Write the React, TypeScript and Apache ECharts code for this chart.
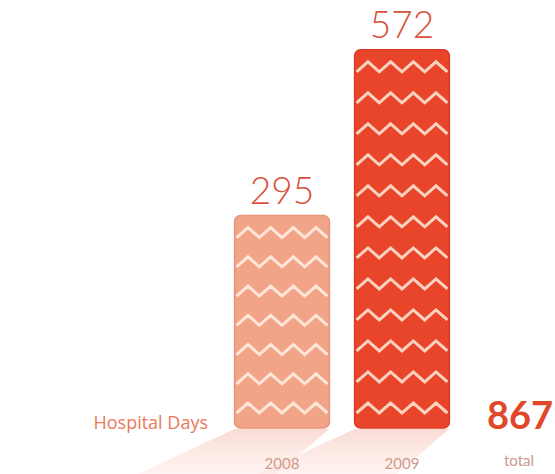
import React, { useEffect, useRef } from "react";
import * as echarts from "echarts";

const years = ["2008", "2009"];
const hospitalDays = [295, 572];
const totalValue = 867;
const barColors = ["#f2a489", "#e8452b"];
const barBorders = ["#e8937a", "#d93c24"];
const zigColors = ["#fde6d8", "#fbd2bf"];

const Y_MIN = -60;
const Y_MAX = 600;

export default function App() {
  const ref = useRef<HTMLDivElement>(null);
  useEffect(() => {
    document.body.style.margin = "0";
    const chart = echarts.init(ref.current!, null, { renderer: "svg" });
    const font = "Lato, 'Open Sans', sans-serif";
    const wideFont = "'Open Sans', Lato, sans-serif";
    chart.setOption({
      animation: false,
      backgroundColor: "#ffffff",
      grid: { left: 222, width: 240, top: 33, bottom: 46 },
      xAxis: {
        type: "category",
        data: years,
        z: 5,
        axisLine: { show: false },
        axisTick: { show: false },
        axisLabel: { color: "#d19a8c", fontSize: 15, margin: 27, fontFamily: font },
      },
      yAxis: { type: "value", min: Y_MIN, max: Y_MAX, show: false },
      graphic: [
        {
          type: "text",
          right: 555 - 208,
          top: 413,
          style: { text: "Hospital Days", fill: "#ea7859", fontSize: 18, fontFamily: wideFont },
        },
        {
          type: "text",
          left: 487,
          top: 395,
          style: { text: String(totalValue), fill: "#e0472b", fontSize: 38, fontWeight: "bold", fontFamily: font },
        },
        {
          type: "text",
          left: 504,
          top: 452,
          style: { text: "total", fill: "#c99a8e", fontSize: 15, fontFamily: font },
        },
      ],
      series: [
        {
          type: "custom",
          z: 2,
          clip: false,
          data: hospitalDays.map((v, i) => [i, v]),
          renderItem: (params: any, api: any) => {
            const idx = api.value(0);
            const val = api.value(1);
            const topPt = api.coord([idx, val]);
            const basePt = api.coord([idx, Y_MIN]);
            const bw = api.size([1, 0])[0] * 0.79;
            const x0 = topPt[0] - bw / 2;
            const x1 = topPt[0] + bw / 2;
            const top = topPt[1];
            const bottom = basePt[1];
            const h = bottom - top;
            const children: any[] = [];
            children.push({
              type: "polygon",
              shape: {
                points: [
                  [x0, bottom + 1],
                  [x1, bottom + 1],
                  [x1 - 58, bottom + 50],
                  [x0 - 105, bottom + 50],
                ],
              },
              style: {
                fill: new echarts.graphic.LinearGradient(0, 0, 0, 1, [
                  { offset: 0, color: "rgba(246,190,176,0.55)" },
                  { offset: 1, color: "rgba(252,222,214,0.3)" },
                ]),
              },
            });
            children.push({
              type: "rect",
              shape: { x: x0, y: top, width: bw, height: h, r: 6 },
              style: { fill: barColors[idx], stroke: barBorders[idx], lineWidth: 1.5 },
            });
            const n = Math.round((h - 37) / 30) + 1;
            const yFirst = top + 17;
            const yLast = bottom - 20;
            const step = n > 1 ? (yLast - yFirst) / (n - 1) : 0;
            const amp = 5;
            const span = bw - 4;
            const nSeg = Math.round(span / 11.5);
            const half = span / nSeg;
            for (let r = 0; r < n; r++) {
              const yy = yFirst + r * step;
              const pts: number[][] = [];
              for (let k = 0; k <= nSeg; k++) {
                pts.push([x0 + 2 + k * half, yy + (k % 2 === 0 ? amp : -amp)]);
              }
              children.push({
                type: "polyline",
                shape: { points: pts },
                style: { stroke: zigColors[idx], lineWidth: 3, fill: null, lineJoin: "miter" },
              });
            }
            children.push({
              type: "text",
              x: topPt[0],
              y: top - 26,
              style: {
                text: String(val),
                fill: "#d8503b",
                fontSize: 37,
                fontWeight: 300,
                fontFamily: font,
                align: "center",
                verticalAlign: "middle",
              },
            });
            return { type: "group", children };
          },
        },
      ],
    });
    return () => chart.dispose();
  }, []);
  return (
    <div
      ref={ref}
      style={{ position: "fixed", left: 0, top: 0, width: 555, height: 474 }}
    />
  );
}
